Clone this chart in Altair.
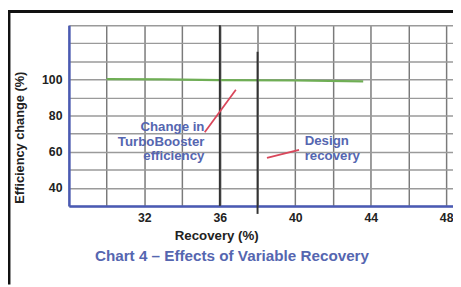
import altair as alt
import pandas as pd

# ---- data ----
recovery = [30, 33, 36, 40, 43.6]
efficiency = [100.2, 100.0, 99.6, 99.4, 98.9]

x_grid = [28, 30, 32, 34, 36, 38, 40, 42, 44, 46, 48]
x_labels = [32, 36, 40, 44, 48]
y_grid = [30, 40, 50, 60, 70, 80, 90, 100, 110, 120, 130]
y_labels = [40, 60, 80, 100]

marker_x = [36, 38]
marker_y_top = [130, 115.3]
marker_y_bot = [30, 25.6]

pointer_id = ["a", "a", "b", "b"]
pointer_x = [35.2, 36.85, 38.5, 40.2]
pointer_y = [70.8, 94.3, 56.6, 61.0]

annot1 = ["Change in", "TurboBooster", "efficiency"]
annot2 = ["Design", "recovery"]
chart_title = "Chart 4 – Effects of Variable Recovery"
x_title = "Recovery (%)"
y_title = "Efficiency change (%)"

FONT = "Liberation Sans"
BLUE = "#5566b0"
AXISBLUE = "#4a5ab4"

xscale = alt.Scale(domain=[28, 48.36], nice=False, zero=False)
yscale = alt.Scale(domain=[30, 130], nice=False, zero=False)

def lbl_expr(vals):
    return "indexof([" + ",".join(str(v) for v in vals) + "], datum.value) >= 0 ? datum.label : ''"

xaxis = alt.Axis(values=x_grid, labelExpr=lbl_expr(x_labels), grid=True,
                 gridColor="#7a7a7a", gridWidth=1.5, ticks=False,
                 domainColor=AXISBLUE, domainWidth=2.5,
                 labelFont=FONT, labelFontSize=12.5, labelFontWeight="bold",
                 labelColor="#222", labelPadding=6,
                 title=x_title, titleFont=FONT, titleFontSize=13.5,
                 titleFontWeight="bold", titleColor="#222",
                 titleX=150, titleY=23, titleBaseline="top", titleAlign="center")
yaxis = alt.Axis(values=y_grid, labelExpr=lbl_expr(y_labels), grid=True,
                 gridColor="#9a9a9a", gridWidth=1.5, ticks=False,
                 domainColor=AXISBLUE, domainWidth=2.5,
                 labelFont=FONT, labelFontSize=12.5, labelFontWeight="bold",
                 labelColor="#222", labelPadding=7,
                 title=y_title, titleFont=FONT, titleFontSize=13,
                 titleFontWeight="bold", titleColor="#222",
                 titleX=-50, titleY=114, titleAlign="center", titleBaseline="middle",
                 titleAngle=270)

X = lambda f: alt.X(f, scale=xscale, axis=xaxis)
Y = lambda f: alt.Y(f, scale=yscale, axis=yaxis)

green_df = pd.DataFrame({"x": recovery, "y": efficiency})
green = alt.Chart(green_df).mark_line(color="#6fae55", strokeWidth=2.2).encode(
    x=X("x:Q"), y=Y("y:Q"),
)

markers_df = pd.DataFrame({"x": marker_x, "y": marker_y_top, "y2": marker_y_bot})
markers = alt.Chart(markers_df).mark_rule(color="#333333", strokeWidth=2).encode(
    x=X("x:Q"), y=Y("y:Q"), y2="y2:Q",
)

ptr_df = pd.DataFrame({"id": pointer_id, "x": pointer_x, "y": pointer_y})
pointers = alt.Chart(ptr_df).mark_line(color="#d9465a", strokeWidth=1.8).encode(
    x=X("x:Q"), y=Y("y:Q"), detail="id:N",
)

one = pd.DataFrame({"a": [0]})
txt1 = alt.Chart(one).mark_text(text=annot1, align="right", baseline="top",
                                 font=FONT, fontSize=13.5, fontWeight="bold",
                                 color=BLUE, lineHeight=14.5).encode(
    x=alt.value(138), y=alt.value(97))
txt2 = alt.Chart(one).mark_text(text=annot2, align="left", baseline="top",
                                 font=FONT, fontSize=13.5, fontWeight="bold",
                                 color=BLUE, lineHeight=15).encode(
    x=alt.value(240), y=alt.value(111))
ttl = alt.Chart(one).mark_text(text=chart_title, align="center", baseline="middle",
                                font=FONT, fontSize=15.5, fontWeight="bold",
                                color=BLUE).encode(
    x=alt.value(166), y=alt.value(235))

frame_v = alt.Chart(one).mark_rule(color="#111", strokeWidth=3).encode(
    x=alt.value(-61), y=alt.value(-15), y2=alt.value(264))
frame_h = alt.Chart(one).mark_rule(color="#111", strokeWidth=3).encode(
    y=alt.value(-14), x=alt.value(-62), x2=alt.value(391))

chart = alt.layer(green, markers, pointers, txt1, txt2, ttl, frame_v, frame_h).properties(
    width=391, height=184,
    autosize=alt.AutoSizeParams(type="none"),
    padding={"left": 62, "top": 15, "right": 0, "bottom": 80},
    background="white",
).configure_view(strokeWidth=0)

chart.save("out.html", embed_options={"renderer": "svg", "actions": False})
